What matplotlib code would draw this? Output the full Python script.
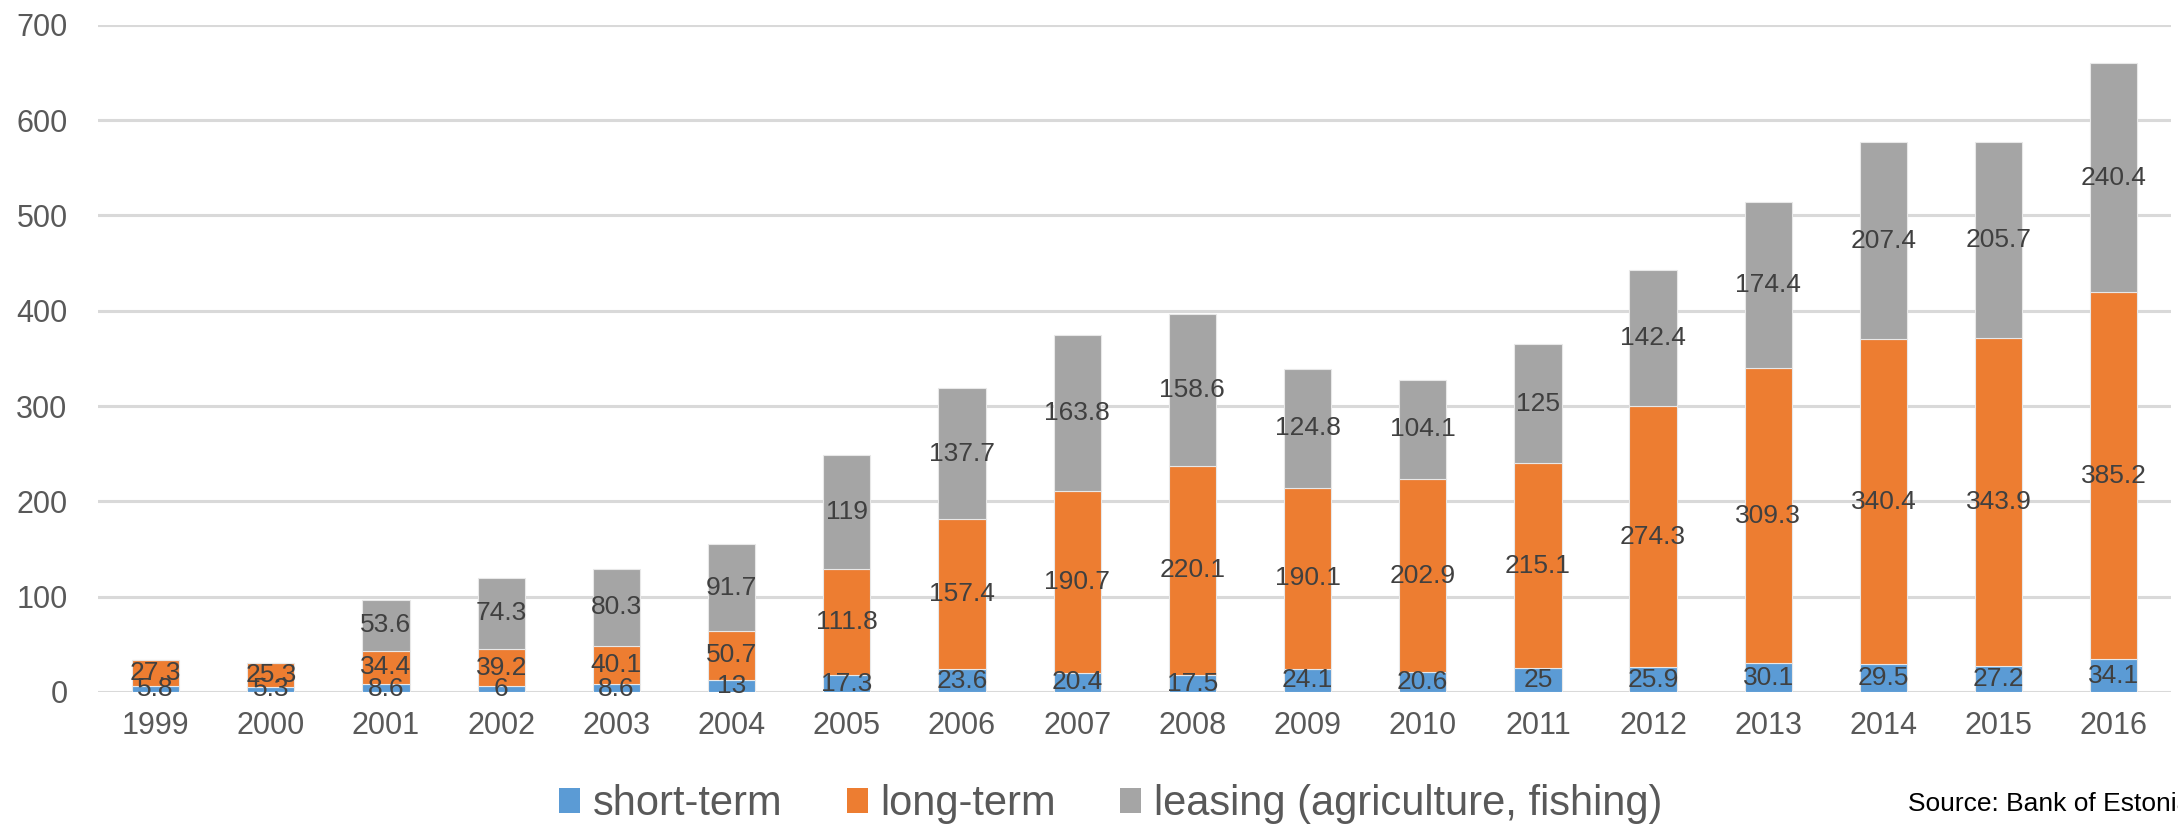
import matplotlib.pyplot as plt
import numpy as np

years = ['1999', '2000', '2001', '2002', '2003', '2004', '2005', '2006', '2007',
         '2008', '2009', '2010', '2011', '2012', '2013', '2014', '2015', '2016']
short_term = [5.8, 5.3, 8.6, 6, 8.6, 13, 17.3, 23.6, 20.4, 17.5, 24.1, 20.6,
              25, 25.9, 30.1, 29.5, 27.2, 34.1]
long_term = [27.3, 25.3, 34.4, 39.2, 40.1, 50.7, 111.8, 157.4, 190.7, 220.1,
             190.1, 202.9, 215.1, 274.3, 309.3, 340.4, 343.9, 385.2]
leasing = [0, 0, 53.6, 74.3, 80.3, 91.7, 119, 137.7, 163.8, 158.6, 124.8,
           104.1, 125, 142.4, 174.4, 207.4, 205.7, 240.4]
series_names = ['short-term', 'long-term', 'leasing (agriculture, fishing)']
colors = ['#5B9BD5', '#ED7D31', '#A5A5A5']

plt.rcParams['font.family'] = ['Liberation Sans', 'DejaVu Sans']

fig = plt.figure(figsize=(21.78, 8.27), dpi=100)
ax = fig.add_axes([0.045, 0.1633, 0.952, 0.8067])

x = np.arange(len(years))
bottom = np.zeros(len(years))
bars = []
for vals, name, c in zip([short_term, long_term, leasing], series_names, colors):
    vals = np.array(vals, dtype=float)
    b = ax.bar(x, vals, 0.41, bottom=bottom, color=c, label=name,
               edgecolor='#e8e8e8', linewidth=0.8, zorder=3)
    for xi, v, b0 in zip(x, vals, bottom):
        if v > 0:
            # small segments: excel nudges the label up a bit
            yc = b0 + v / 2 if v > 12 else b0 + 3
            ax.text(xi, yc, '%g' % v, ha='center', va='center',
                    fontsize=19, color='#404040', zorder=4)
    bottom = bottom + vals
    bars.append(b)

ax.set_xlim(-0.5, len(years) - 0.5)
ax.set_ylim(0, 700)
ax.set_yticks(range(0, 701, 100))
ax.set_xticks(x)
ax.set_xticklabels(years)
ax.tick_params(axis='both', length=0, labelsize=22, colors='#595959')
ax.tick_params(axis='y', pad=22)
ax.tick_params(axis='x', pad=14)
ax.grid(axis='y', color='#D9D9D9', linewidth=2.2, zorder=0)
ax.set_axisbelow(True)
for s in ['top', 'bottom', 'right', 'left']:
    ax.spines[s].set_visible(False)

leg = fig.legend(handles=bars, loc='center', bbox_to_anchor=(0.51, 0.028),
                 ncol=3, frameon=False, fontsize=30, handlelength=0.5,
                 handleheight=0.55, handletextpad=0.3, columnspacing=1.55,
                 borderpad=0)
for t in leg.get_texts():
    t.set_color('#595959')
for h in leg.legend_handles:
    h.set_edgecolor('none')

fig.text(1908 / 2178, 0.028, 'Source: Bank of Estonia', fontsize=19,
         color='black', ha='left', va='center')

plt.savefig('out.png', dpi=100)
plt.close()
